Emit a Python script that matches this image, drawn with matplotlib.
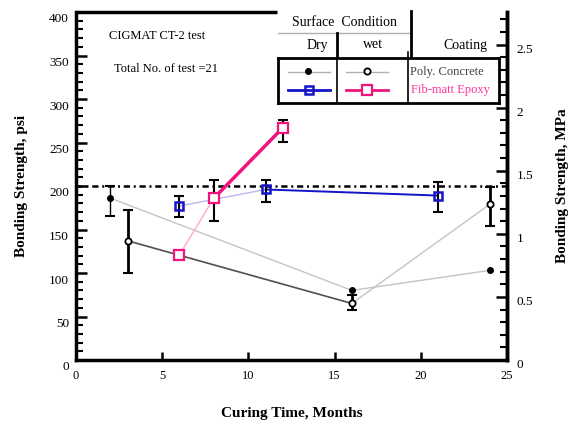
import numpy as np
import matplotlib
matplotlib.use("Agg")
import matplotlib.pyplot as plt
import matplotlib.transforms as mtransforms
from matplotlib.lines import Line2D
from matplotlib.ticker import MultipleLocator

plt.rcParams["font.family"] = ["Liberation Serif", "DejaVu Serif"]

PSI_PER_MPA = 145.04

# ── Data (psi) ───────────────────────────────────────────────────────────────
pc_dry_t = [2, 16, 24]
pc_dry_y = [186, 80, 103]
pc_dry_lo = [166, np.nan, np.nan]
pc_dry_hi = [200, np.nan, np.nan]

pc_wet_t = [3, 16, 24]
pc_wet_y = [137, 65, 179]
pc_wet_lo = [100, 57, 154]
pc_wet_hi = [172, 75, 199]

fm_dry_t = [6, 11, 21]
fm_dry_y = [177, 196, 189]
fm_dry_lo = [164, 182, 170]
fm_dry_hi = [188, 207, 205]

fm_wet_t = [6, 8, 12]
fm_wet_y = [121, 186, 267]
fm_wet_lo = [np.nan, 160, 251]
fm_wet_hi = [np.nan, 207, 276]

ref_level = 200
n_tests = 21

PINK = "#f0147c"
BLUE = "#1414c8"


def err_bars(ax, t, y, lo, hi, lw):
    y = np.array(y, float)
    lo = np.array(lo, float)
    hi = np.array(hi, float)
    yerr = np.vstack([y - lo, hi - y])
    ax.errorbar(t, y, yerr=yerr, fmt="none", ecolor="black", elinewidth=lw,
                capsize=3.5, capthick=1.5, zorder=3)


fig = plt.figure(figsize=(5.69, 4.24), dpi=100)
ax = fig.add_axes([76 / 569, 64 / 424, 431 / 569, 348 / 424])

# reference line
ax.axhline(ref_level, color="black", lw=1.8, dashes=(2.5, 1.5, 0.8, 1.5), zorder=2)

# Poly. Concrete dry
ax.plot(pc_dry_t, pc_dry_y, color="#c4c4c4", lw=1.0, zorder=2)
err_bars(ax, pc_dry_t, pc_dry_y, pc_dry_lo, pc_dry_hi, 1.0)
ax.plot(pc_dry_t, pc_dry_y, "o", color="black", ms=4, zorder=4)

# Poly. Concrete wet
ax.plot(pc_wet_t[:2], pc_wet_y[:2], color="#505050", lw=1.2, zorder=2)
ax.plot(pc_wet_t[1:], pc_wet_y[1:], color="#c4c4c4", lw=1.0, zorder=2)
err_bars(ax, pc_wet_t, pc_wet_y, pc_wet_lo, pc_wet_hi, 2.0)
ax.plot(pc_wet_t, pc_wet_y, "o", mfc="white", mec="black", mew=1.3, ms=4.5, zorder=4)

# Fib-matt Epoxy dry
ax.plot(fm_dry_t[:2], fm_dry_y[:2], color="#b8b8f0", lw=1.0, zorder=2)
ax.plot(fm_dry_t[1:], fm_dry_y[1:], color=BLUE, lw=1.4, zorder=2)
err_bars(ax, fm_dry_t, fm_dry_y, fm_dry_lo, fm_dry_hi, 1.5)
ax.plot(fm_dry_t, fm_dry_y, "s", mfc="none", mec=BLUE, mew=1.8, ms=6, zorder=4)

# Fib-matt Epoxy wet
ax.plot(fm_wet_t[:2], fm_wet_y[:2], color="#ffa8d0", lw=1.0, zorder=2)
ax.plot(fm_wet_t[1:], fm_wet_y[1:], color=PINK, lw=2.5, zorder=2)
err_bars(ax, fm_wet_t, fm_wet_y, fm_wet_lo, fm_wet_hi, 1.5)
ax.plot(fm_wet_t, fm_wet_y, "s", mfc="white", mec=PINK, mew=1.6, ms=6.5, zorder=4)

# ── Axes styling ─────────────────────────────────────────────────────────────
ax.set_xlim(0, 25)
ax.set_ylim(0, 400)
ax.xaxis.set_major_locator(MultipleLocator(5))
ax.yaxis.set_major_locator(MultipleLocator(50))
ax.yaxis.set_minor_locator(MultipleLocator(10))
for s in ["left", "bottom", "right"]:
    ax.spines[s].set_linewidth(2.5)
ax.spines["top"].set_visible(False)
ax.plot([0, 0.466], [1, 1], color="black", lw=2.5, transform=ax.transAxes,
        clip_on=False, solid_capstyle="butt")
ax.tick_params(axis="x", direction="in", length=6, width=1.8, pad=7, labelsize=9)
ax.tick_params(axis="y", which="major", direction="in", length=8, width=1.8,
               pad=5, labelsize=9.5)
ax.tick_params(axis="y", which="minor", direction="in", length=5, width=1.5)
ax.set_xlabel("Curing Time, Months", fontsize=11, fontweight="bold", labelpad=18)
ax.set_ylabel("Bonding Strength, psi", fontsize=11, fontweight="bold", labelpad=15)

ax2 = ax.twinx()
ax2.set_ylim(0, 400 / PSI_PER_MPA)
ax2.yaxis.set_major_locator(MultipleLocator(0.5))
ax2.yaxis.set_minor_locator(MultipleLocator(0.1))
ax2.spines["top"].set_visible(False)
ax2.spines["right"].set_linewidth(2.5)
ax2.tick_params(axis="y", which="major", direction="in", length=8, width=1.8,
                pad=7, labelsize=9.5)
ax2.tick_params(axis="y", which="minor", direction="in", length=5, width=1.5)
ax2.set_yticks(np.arange(0, 2.51, 0.5))
ax2.set_yticklabels(["0", "0.5", "1", "1.5", "2", "2.5"])
ax2.set_ylabel("Bonding Strength, MPa", fontsize=11, fontweight="bold", labelpad=16)

# tick labels in the original sit a few pixels below their ticks
for lbl in ax.get_yticklabels():
    lbl.set_transform(lbl.get_transform() +
                      mtransforms.ScaledTranslation(0, -6 / 100, fig.dpi_scale_trans))
for lbl in ax2.get_yticklabels():
    lbl.set_transform(lbl.get_transform() +
                      mtransforms.ScaledTranslation(0, -4 / 100, fig.dpi_scale_trans))

# ── Annotations ──────────────────────────────────────────────────────────────
ax.text(0.076, 0.93, "CIGMAT CT-2 test", transform=ax.transAxes, fontsize=9,
        va="center")
ax.text(0.088, 0.835, f"Total No. of test ={n_tests}", transform=ax.transAxes,
        fontsize=9, va="center")


# ── Table-style legend (figure pixel coordinates, y from top) ────────────────
def fx(px):
    return px / 569


def fy(py):
    return 1 - py / 424


def fline(x0, x1, y0, y1, **kw):
    fig.add_artist(Line2D([fx(x0), fx(x1)], [fy(y0), fy(y1)], **kw))


fig.text(fx(345), fy(23), "Surface  Condition", fontsize=10, ha="center", va="center")
fline(278, 411, 33, 33, color="#b0b0b0", lw=1.0)
fline(411, 411, 11, 56, color="black", lw=2.0)
fline(337, 337, 33, 56, color="black", lw=2.0)
fig.text(fx(328), fy(45), "Dry", fontsize=10, ha="right", va="center")
fig.text(fx(373), fy(45), "wet", fontsize=10, ha="center", va="center")
fig.text(fx(465), fy(45), "Coating", fontsize=10, ha="center", va="center")

# box
fline(278, 499, 58, 58, color="black", lw=2.0)
fline(278, 499, 103, 103, color="black", lw=2.0)
fline(278, 278, 58, 103, color="black", lw=2.0)
fline(499, 499, 58, 103, color="black", lw=2.0)
fline(337, 337, 58, 103, color="black", lw=1.2)
fline(408, 408, 52, 103, color="black", lw=1.2)

fline(288, 330, 72, 72, color="#b0b0b0", lw=1.0)
fline(346, 388, 72, 72, color="#b0b0b0", lw=1.0)
fig.add_artist(Line2D([fx(308)], [fy(71)], marker="o", color="black", ms=4))
fig.add_artist(Line2D([fx(367)], [fy(71)], marker="o", mfc="white", mec="black",
                      mew=1.3, ms=4.5))
fig.text(fx(410), fy(72), "Poly. Concrete", fontsize=9, color="#404040", va="center")

fline(288, 330, 90, 90, color=BLUE, lw=2.0)
fline(346, 388, 90, 90, color=PINK, lw=2.0)
fig.add_artist(Line2D([fx(309)], [fy(90)], marker="s", mfc="none", mec=BLUE,
                      mew=1.8, ms=6))
fig.add_artist(Line2D([fx(367)], [fy(90)], marker="s", mfc="white", mec=PINK,
                      mew=1.6, ms=6.5))
fig.text(fx(411), fy(90), "Fib-matt Epoxy", fontsize=9, color="#ff3399", va="center")

fig.savefig("out.png", dpi=100)
